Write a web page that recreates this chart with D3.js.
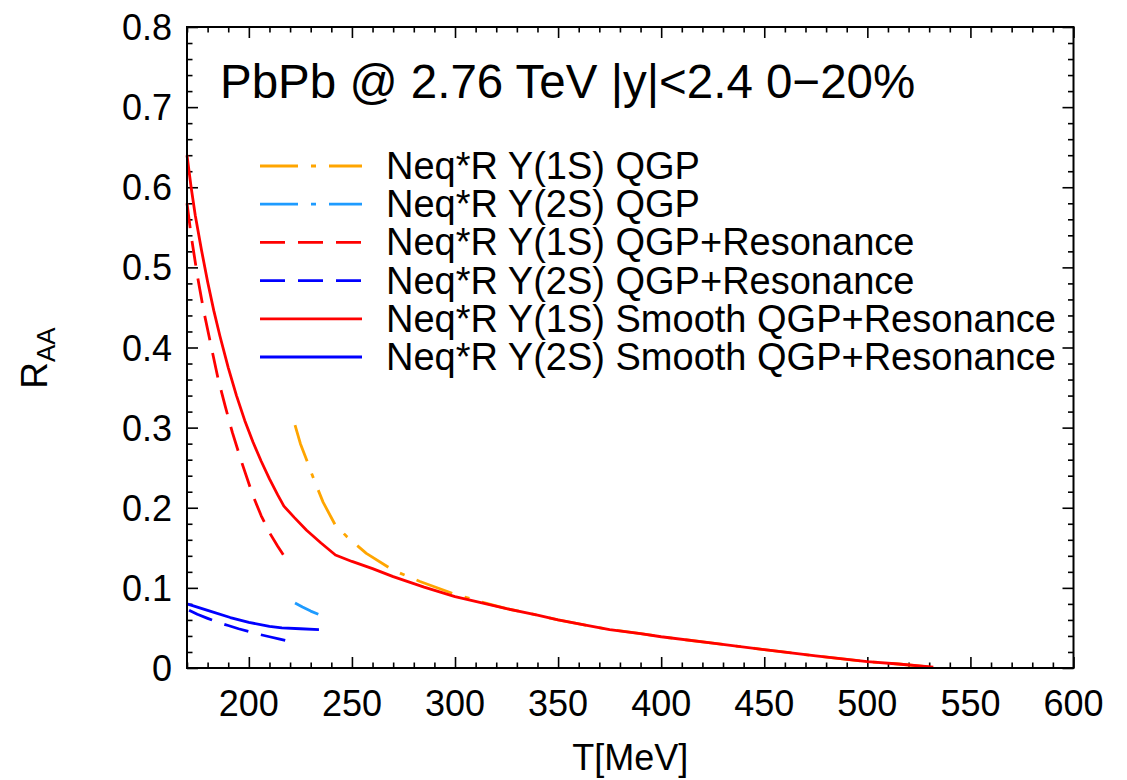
<!DOCTYPE html>
<html>
<head>
<meta charset="utf-8">
<script src="https://cdn.jsdelivr.net/npm/d3@7"></script>
<style>
  body { margin: 0; background: #fff; }
  text { font-family: "Liberation Sans", Arial, Helvetica, sans-serif; fill: #000; }
</style>
</head>
<body>
<svg id="chart" width="1127" height="780"></svg>
<script>
// T [MeV] and R_AA, one pair of arrays per curve
const y1sQgpT   = [222.4, 225, 228, 231.3, 236, 241.8, 247.5, 257, 270, 283, 299, 312, 325, 340, 350, 362, 375, 390, 400, 425, 450, 475, 500, 515, 532];
const y1sQgpR   = [0.303, 0.280, 0.260, 0.237, 0.207, 0.179, 0.164, 0.143, 0.122, 0.108, 0.093, 0.083, 0.074, 0.066, 0.060, 0.054, 0.048, 0.043, 0.039, 0.031, 0.023, 0.015, 0.008, 0.005, 0.001];

const y2sQgpT   = [222.4, 226, 230, 233.7];
const y2sQgpR   = [0.081, 0.076, 0.071, 0.067];

const y1sResT   = [170, 172, 175, 178, 182, 185, 188.4, 192, 196.5, 202, 206, 210, 214, 217, 220];
const y1sResR   = [0.580, 0.540, 0.490, 0.447, 0.398, 0.362, 0.328, 0.294, 0.257, 0.215, 0.190, 0.169, 0.152, 0.140, 0.130];

const y2sResT   = [171, 175, 180, 185, 190, 195, 201, 205, 210, 215, 220];
const y2sResR   = [0.072, 0.067, 0.062, 0.057, 0.053, 0.049, 0.045, 0.042, 0.039, 0.036, 0.033];

const y1sSmoothT = [170, 172, 174, 177, 180, 183, 186, 190, 194, 198, 202, 206, 210, 214, 217, 222, 228, 235, 242, 250, 260, 270, 285, 300, 312, 325, 340, 350, 362, 375, 390, 400, 425, 450, 475, 500, 515, 532];
const y1sSmoothR = [0.640, 0.600, 0.565, 0.522, 0.482, 0.446, 0.414, 0.375, 0.340, 0.309, 0.282, 0.258, 0.236, 0.216, 0.202, 0.188, 0.172, 0.156, 0.141, 0.133, 0.124, 0.114, 0.101, 0.089, 0.082, 0.074, 0.066, 0.060, 0.054, 0.048, 0.043, 0.039, 0.031, 0.023, 0.015, 0.008, 0.005, 0.001];

const y2sSmoothT = [170, 180, 191, 200, 210, 216, 225, 234];
const y2sSmoothR = [0.080, 0.072, 0.063, 0.057, 0.052, 0.050, 0.049, 0.048];

const xTicks = [200, 250, 300, 350, 400, 450, 500, 550, 600];
const yTicks = [0, 0.1, 0.2, 0.3, 0.4, 0.5, 0.6, 0.7, 0.8];

const titleText = "PbPb @ 2.76 TeV |y|<2.4 0\u221220%";

const series = [
    { label: "Neq*R Y(1S) QGP", T: y1sQgpT, R: y1sQgpR, color: "#ffa500", dash: "38,13,5,13" },
    { label: "Neq*R Y(2S) QGP", T: y2sQgpT, R: y2sQgpR, color: "#1e9bff", dash: "38,13,5,13" },
    { label: "Neq*R Y(1S) QGP+Resonance", T: y1sResT, R: y1sResR, color: "#ff0000", dash: "25,13" },
    { label: "Neq*R Y(2S) QGP+Resonance", T: y2sResT, R: y2sResR, color: "#0000ff", dash: "25,13" },
    { label: "Neq*R Y(1S) Smooth QGP+Resonance", T: y1sSmoothT, R: y1sSmoothR, color: "#ff0000", dash: null },
    { label: "Neq*R Y(2S) Smooth QGP+Resonance", T: y2sSmoothT, R: y2sSmoothR, color: "#0000ff", dash: null }
];

const svg = d3.select("#chart");
const plotL = 187, plotR = 1073.5, plotT = 27, plotB = 668;

const x = d3.scaleLinear().domain([170, 600]).range([plotL, plotR]);
const y = d3.scaleLinear().domain([0, 0.8]).range([plotB, plotT]);

const xMinor = d3.range(170, 601, 10).filter(v => v % 50 !== 0);
const yMinor = d3.range(0, 81, 2).map(v => v / 100).filter((v, i) => i % 5 !== 0);

// ticks, pointing inwards on all four sides
function tickAxis(axis, values, size, transform) {
    const g = svg.append("g").attr("transform", transform)
        .call(axis.tickValues(values).tickSize(size).tickFormat(""));
    g.select(".domain").remove();
    g.selectAll("line").attr("stroke", "#000").attr("stroke-width", 1.6);
}
tickAxis(d3.axisBottom(x), xTicks, -11, `translate(0,${plotB})`);
tickAxis(d3.axisBottom(x), xMinor, -5.5, `translate(0,${plotB})`);
tickAxis(d3.axisTop(x), xTicks, -11, `translate(0,${plotT})`);
tickAxis(d3.axisTop(x), xMinor, -5.5, `translate(0,${plotT})`);
tickAxis(d3.axisLeft(y), yTicks, -11, `translate(${plotL},0)`);
tickAxis(d3.axisLeft(y), yMinor, -5.5, `translate(${plotL},0)`);
tickAxis(d3.axisRight(y), yTicks, -11, `translate(${plotR},0)`);
tickAxis(d3.axisRight(y), yMinor, -5.5, `translate(${plotR},0)`);

// tick labels
svg.append("g").selectAll("text").data(xTicks).join("text")
    .attr("x", d => x(d)).attr("y", 716)
    .attr("text-anchor", "middle").attr("font-size", 36)
    .text(d => d);
svg.append("g").selectAll("text").data(yTicks).join("text")
    .attr("x", 172).attr("y", d => y(d) + 13)
    .attr("text-anchor", "end").attr("font-size", 36)
    .text(d => d === 0 ? "0" : d.toFixed(1));

// axis titles
svg.append("text")
    .attr("x", (plotL + plotR) / 2).attr("y", 770)
    .attr("text-anchor", "middle").attr("font-size", 36)
    .text("T[MeV]");
const yl = svg.append("text")
    .attr("transform", `translate(47,358) rotate(-90)`)
    .attr("text-anchor", "middle").attr("font-size", 37);
yl.append("tspan").text("R");
yl.append("tspan").attr("font-size", 26).attr("dy", 8).text("AA");

// curves
const line = d3.line().x(d => x(d[0])).y(d => y(d[1]));
const drawOrder = [0, 1, 2, 3, 5, 4];
drawOrder.forEach(i => {
    const s = series[i];
    svg.append("path")
        .datum(s.T.map((t, k) => [t, s.R[k]]))
        .attr("d", line)
        .attr("fill", "none")
        .attr("stroke", s.color)
        .attr("stroke-width", 2.8)
        .attr("stroke-dasharray", s.dash)
        .attr("stroke-linejoin", "round");
});

// frame
svg.append("rect")
    .attr("x", plotL).attr("y", plotT)
    .attr("width", plotR - plotL).attr("height", plotB - plotT)
    .attr("fill", "none").attr("stroke", "#000").attr("stroke-width", 2);

// title
svg.append("text")
    .attr("x", 220).attr("y", 98)
    .attr("font-size", 47.5)
    .text(titleText);

// legend
const leg = svg.append("g");
series.forEach((s, i) => {
    const ly = 166 + i * 38.2;
    leg.append("line")
        .attr("x1", 260).attr("x2", 362).attr("y1", ly).attr("y2", ly)
        .attr("stroke", s.color).attr("stroke-width", 2.8)
        .attr("stroke-dasharray", s.dash);
    leg.append("text")
        .attr("x", 386).attr("y", ly + 13)
        .attr("font-size", 38)
        .text(s.label);
});
</script>
</body>
</html>
